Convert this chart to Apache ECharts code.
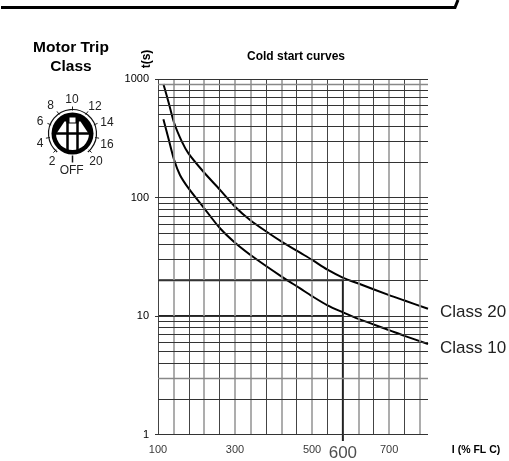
<!DOCTYPE html>
<html>
<head>
<meta charset="utf-8">
<style>
  html, body { margin: 0; padding: 0; background: #fff; }
  #chart { width: 509px; height: 461px; }
</style>
<script src="https://cdn.jsdelivr.net/npm/echarts@6/dist/echarts.min.js"></script>
</head>
<body>
<div id="chart"></div>
<script>
// current in % FLC, time in seconds
const class20X = [114, 127, 142, 162, 179, 218, 261, 300, 339, 382, 425, 469, 500, 540, 581, 622, 700, 740, 801];
const class20T = [907, 643, 425, 296, 236, 165, 116, 83.6, 64.6, 51.4, 41.6, 34.2, 29.8, 24.6, 21, 18.7, 15, 13.5, 11.5];
const class10X = [114, 127, 142, 157, 179, 218, 261, 300, 352, 421, 469, 500, 540, 581, 622, 700, 740, 801];
const class10T = [457, 316, 207, 155, 120, 82.7, 55, 41.6, 30.7, 21.5, 17.1, 14.7, 12.3, 10.7, 9.4, 7.6, 6.8, 5.8];

const gridX = [100, 140, 180, 220, 260, 300, 340, 380, 420, 460, 500, 540, 580, 620, 660, 700, 740, 780];
const softGridX = [140, 220, 300, 340, 420, 500, 620, 700, 780];
const gridT = [
  1000, 900, 800, 700, 600, 500, 400, 300, 200,
  100, 90, 80, 70, 60, 50, 40, 30, 20,
  10, 9, 8, 7, 6, 5, 4, 3, 2, 1
];
const softGridT = [900, 3];
const xTickLabels = [[100, '100'], [300, '300'], [500, '500'], [700, '700']];
const yTickValues = [1, 10, 100, 1000];
const markerX = 580; // the line labelled 600 in the source
const markerLabel = '600';
const markerT = [20, 10];
const markerBottomT = 0.88;

const xMin = 100, xMax = 801;

const dialLabels = [
  ['2', 52, 162], ['4', 40, 144], ['6', 40, 122], ['8', 50.7, 106],
  ['10', 72, 100], ['12', 95, 107], ['14', 107, 123], ['16', 107, 145],
  ['20', 96, 162], ['OFF', 71.7, 171]
];

const myChart = echarts.init(document.getElementById('chart'));

function dial(cx, cy) {
  const els = [];
  const black = { stroke: '#000', lineWidth: 2.5 };
  // scale ticks between the labels
  [-135, -100, -68, -35, 0, 35, 68, 100, 135].forEach((deg) => {
    const a = (deg - 90) * Math.PI / 180;
    els.push({
      type: 'line',
      shape: {
        x1: cx + 23 * Math.cos(a), y1: cy + 23 * Math.sin(a),
        x2: cx + 27 * Math.cos(a), y2: cy + 27 * Math.sin(a),
      },
      style: { stroke: '#222', lineWidth: 1 },
    });
  });
  els.push({
    type: 'line',
    shape: { x1: cx, y1: cy + 22, x2: cx, y2: cy + 29 },
    style: { stroke: '#111', lineWidth: 1.5 },
  });
  els.push({ type: 'arc', shape: { cx, cy, r: 24, startAngle: Math.PI * 0.72, endAngle: Math.PI * 0.28 }, style: { stroke: '#111', fill: null, lineWidth: 1.2 } });
  // knob body with its white openings
  els.push({ type: 'circle', shape: { cx, cy, r: 21 }, style: { fill: '#000' } });
  els.push({ type: 'sector', shape: { cx, cy, r: 16.5, startAngle: 0, endAngle: Math.PI }, style: { fill: '#fff' } });
  els.push({ type: 'polygon', shape: { points: [[cx - 16, cy], [cx - 8, cy - 12], [cx + 8, cy - 12], [cx + 16, cy]] }, style: { fill: '#fff' } });
  els.push({ type: 'line', shape: { x1: cx - 16.5, y1: cy, x2: cx + 16.5, y2: cy }, style: black });
  els.push({ type: 'line', shape: { x1: cx - 5, y1: cy - 13, x2: cx - 5, y2: cy + 17 }, style: black });
  els.push({ type: 'line', shape: { x1: cx + 5, y1: cy - 13, x2: cx + 5, y2: cy + 17 }, style: black });
  els.push({ type: 'rect', shape: { x: cx - 6, y: cy - 16, width: 12, height: 6 }, style: { fill: '#000' } });
  els.push({ type: 'rect', shape: { x: cx - 3, y: cy - 16, width: 6, height: 5 }, style: { fill: '#fff' } });
  return els;
}

function text(str, x, y, size, weight, extra) {
  return {
    type: 'text',
    x,
    y,
    style: Object.assign({
      text: str,
      fontFamily: 'Liberation Sans',
      fontSize: size,
      fontWeight: weight || 'normal',
      fill: '#000',
      align: 'center',
      verticalAlign: 'middle',
    }, extra),
  };
}

const gridData = gridX.map((x) => {
  const soft = softGridX.includes(x);
  return [
    { coord: [x, 1], lineStyle: { color: soft ? '#999' : '#444', width: soft ? 1.6 : 1 } },
    { coord: [x, 1000] },
  ];
}).concat(gridT.map((t) => {
  const soft = softGridT.includes(t);
  return [
    { coord: [xMin, t], lineStyle: { color: soft ? '#888' : '#333', width: soft ? 1.4 : 1 } },
    { coord: [xMax, t] },
  ];
}));

function curve(name, xs, ts) {
  return {
    name,
    type: 'line',
    smooth: 0.3,
    symbol: 'none',
    clip: false,
    lineStyle: { color: '#000', width: 2 },
    data: xs.map((x, i) => [x, ts[i]]),
    endLabel: {
      show: true,
      formatter: name,
      fontFamily: 'Liberation Sans',
      fontSize: 17,
      color: '#222',
      distance: 12,
      offset: [0, 4],
    },
  };
}

function readOff(points) {
  return {
    type: 'line',
    symbol: 'none',
    silent: true,
    clip: false,
    lineStyle: { color: '#222', width: 2 },
    data: points,
  };
}

myChart.setOption({
  animation: false,
  backgroundColor: '#fff',
  grid: { left: 158, top: 79, width: 270, height: 355.5, containLabel: false },
  xAxis: {
    type: 'value',
    min: xMin,
    max: xMax,
    axisLine: { show: false },
    axisTick: { show: false },
    axisLabel: { show: false },
    splitLine: { show: false },
  },
  yAxis: {
    type: 'log',
    logBase: 10,
    min: 1,
    max: 1000,
    axisLine: { show: false },
    axisTick: { show: true, length: 3, lineStyle: { color: '#333' } },
    axisLabel: {
      fontFamily: 'Liberation Sans',
      fontSize: 11,
      color: '#000',
      margin: 9,
      formatter: (v) => (yTickValues.includes(v) ? String(v) : ''),
    },
    splitLine: { show: false },
  },
  series: [
    {
      // grid, drawn through the axis scales
      type: 'line',
      data: [],
      silent: true,
      markLine: {
        silent: true,
        symbol: 'none',
        animation: false,
        label: { show: false },
        lineStyle: { type: 'solid' },
        data: gridData,
      },
    },
    // the 600 % read-off lines
    readOff([[xMin, markerT[0]], [markerX, markerT[0]], [markerX, markerBottomT]]),
    readOff([[xMin, markerT[1]], [markerX, markerT[1]]]),
    curve('Class 20', class20X, class20T),
    curve('Class 10', class10X, class10T),
    {
      // x tick labels, placed by the axis
      type: 'scatter',
      symbolSize: 0,
      silent: true,
      clip: false,
      data: xTickLabels.map((d) => ({ value: [d[0], 1], label: { formatter: d[1] } })),
      label: {
        show: true,
        position: 'bottom',
        distance: 10,
        fontFamily: 'Liberation Sans',
        fontSize: 11,
        color: '#000',
      },
    },
    {
      type: 'scatter',
      symbolSize: 0,
      silent: true,
      clip: false,
      data: [{ value: [markerX, 1], label: { formatter: markerLabel } }],
      label: {
        show: true,
        position: 'bottom',
        distance: 10,
        fontFamily: 'Liberation Sans',
        fontSize: 17,
        color: '#222',
      },
    },
  ],
  graphic: {
    elements: [
      {
        type: 'polyline',
        shape: { points: [[1, 7.5], [455, 7.5], [458, 0]] },
        style: { stroke: '#000', fill: null, lineWidth: 3 },
      },
      text('Motor Trip', 71, 48, 15.5, 'bold'),
      text('Class', 71, 66.5, 15.5, 'bold'),
      text('Cold start curves', 296, 57, 12, 'bold'),
      Object.assign(text('t(s)', 147, 59, 12, 'bold'), { rotation: Math.PI / 2 }),
      text('I (% FL C)', 476, 450, 10.5, 'bold'),
    ]
      .concat(dial(72.5, 133.5))
      .concat(dialLabels.map((d) => text(d[0], d[1], d[2], 12, 'normal', { fill: '#222' }))),
  },
});
</script>
</body>
</html>
